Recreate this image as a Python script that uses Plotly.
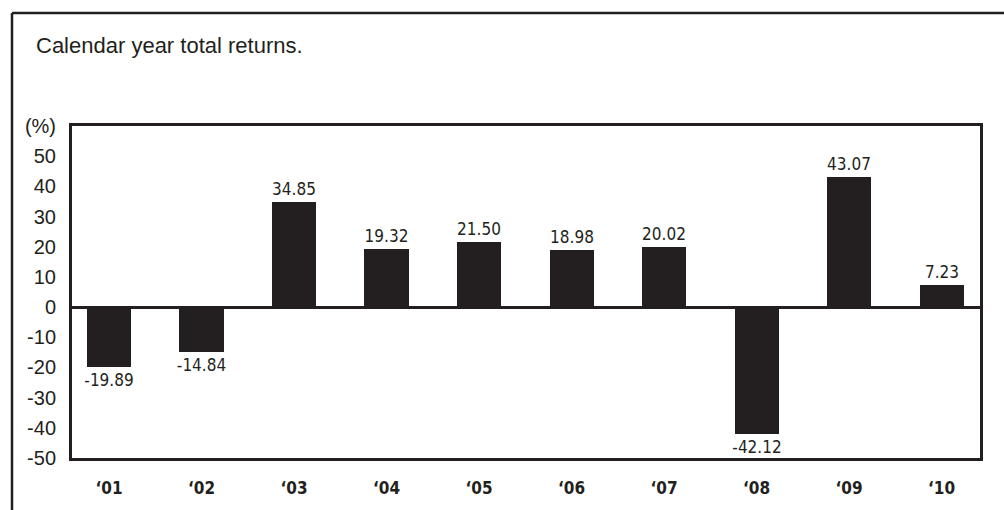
import plotly.graph_objects as go

# Calendar-year total returns (%)
years = ["\u201801", "\u201802", "\u201803", "\u201804", "\u201805",
         "\u201806", "\u201807", "\u201808", "\u201809", "\u201810"]
returns = [-19.89, -14.84, 34.85, 19.32, 21.50, 18.98, 20.02, -42.12, 43.07, 7.23]

y_ticks = [-50, -40, -30, -20, -10, 0, 10, 20, 30, 40, 50, 60]
y_tick_text = ["-50", "-40", "-30", "-20", "-10", "0", "10", "20", "30", "40", "50", "(%)"]

INK = "#231f20"
NARROW = "DejaVu Sans Condensed, Roboto Condensed, Liberation Sans Narrow, Roboto, sans-serif"
W, H = 1004, 510
L, R, T, B = 72, 24, 126, 49
PW, PH = W - L - R, H - T - B


def px_x(px):
    return (px - L) / PW


def px_y(py):
    return 1 - (py - T) / PH


positions = list(range(len(years)))

fig = go.Figure(
    go.Bar(
        x=positions,
        y=returns,
        width=0.476,
        marker=dict(color=INK, line=dict(width=0)),
        text=[f"{v:.2f}" for v in returns],
        textposition="outside",
        constraintext="none",
        textfont=dict(family=NARROW, size=17, color=INK),
        cliponaxis=False,
        hoverinfo="skip",
    )
)

fig.update_layout(
    width=W,
    height=H,
    margin=dict(l=L, r=R, t=T, b=B, pad=0),
    paper_bgcolor="white",
    plot_bgcolor="white",
    showlegend=False,
    bargap=0,
    font=dict(family="Liberation Sans", color=INK),
)

fig.update_xaxes(
    range=[-0.4, 9.416],
    tickmode="array",
    tickvals=positions,
    ticktext=years,
    tickfont=dict(family=NARROW, size=17, color=INK, weight="bold"),
    ticks="",
    ticklabelstandoff=13,
    showgrid=False,
    zeroline=False,
    showline=True,
    linecolor=INK,
    linewidth=3,
    mirror=True,
)

fig.update_yaxes(
    range=[-50, 60],
    tickmode="array",
    tickvals=y_ticks,
    ticktext=y_tick_text,
    tickfont=dict(family="Liberation Sans", size=20, color=INK),
    ticks="",
    ticklabelstandoff=9,
    showgrid=False,
    zeroline=True,
    zerolinecolor=INK,
    zerolinewidth=2.5,
    showline=True,
    linecolor=INK,
    linewidth=3,
    mirror=True,
)

# Outer panel frame (top and left edges)
fig.add_shape(type="line", xref="paper", yref="paper",
              x0=px_x(12), y0=px_y(12), x1=px_x(W + 10), y1=px_y(12),
              line=dict(color=INK, width=2.5))
fig.add_shape(type="line", xref="paper", yref="paper",
              x0=px_x(12), y0=px_y(12), x1=px_x(12), y1=px_y(H + 10),
              line=dict(color=INK, width=2.5))

fig.add_annotation(
    text="Calendar year total returns.",
    xref="paper", yref="paper",
    x=px_x(34), y=px_y(45),
    xanchor="left", yanchor="middle",
    showarrow=False,
    font=dict(family="Liberation Sans", size=22, color=INK),
)

fig.write_html("out.html")
